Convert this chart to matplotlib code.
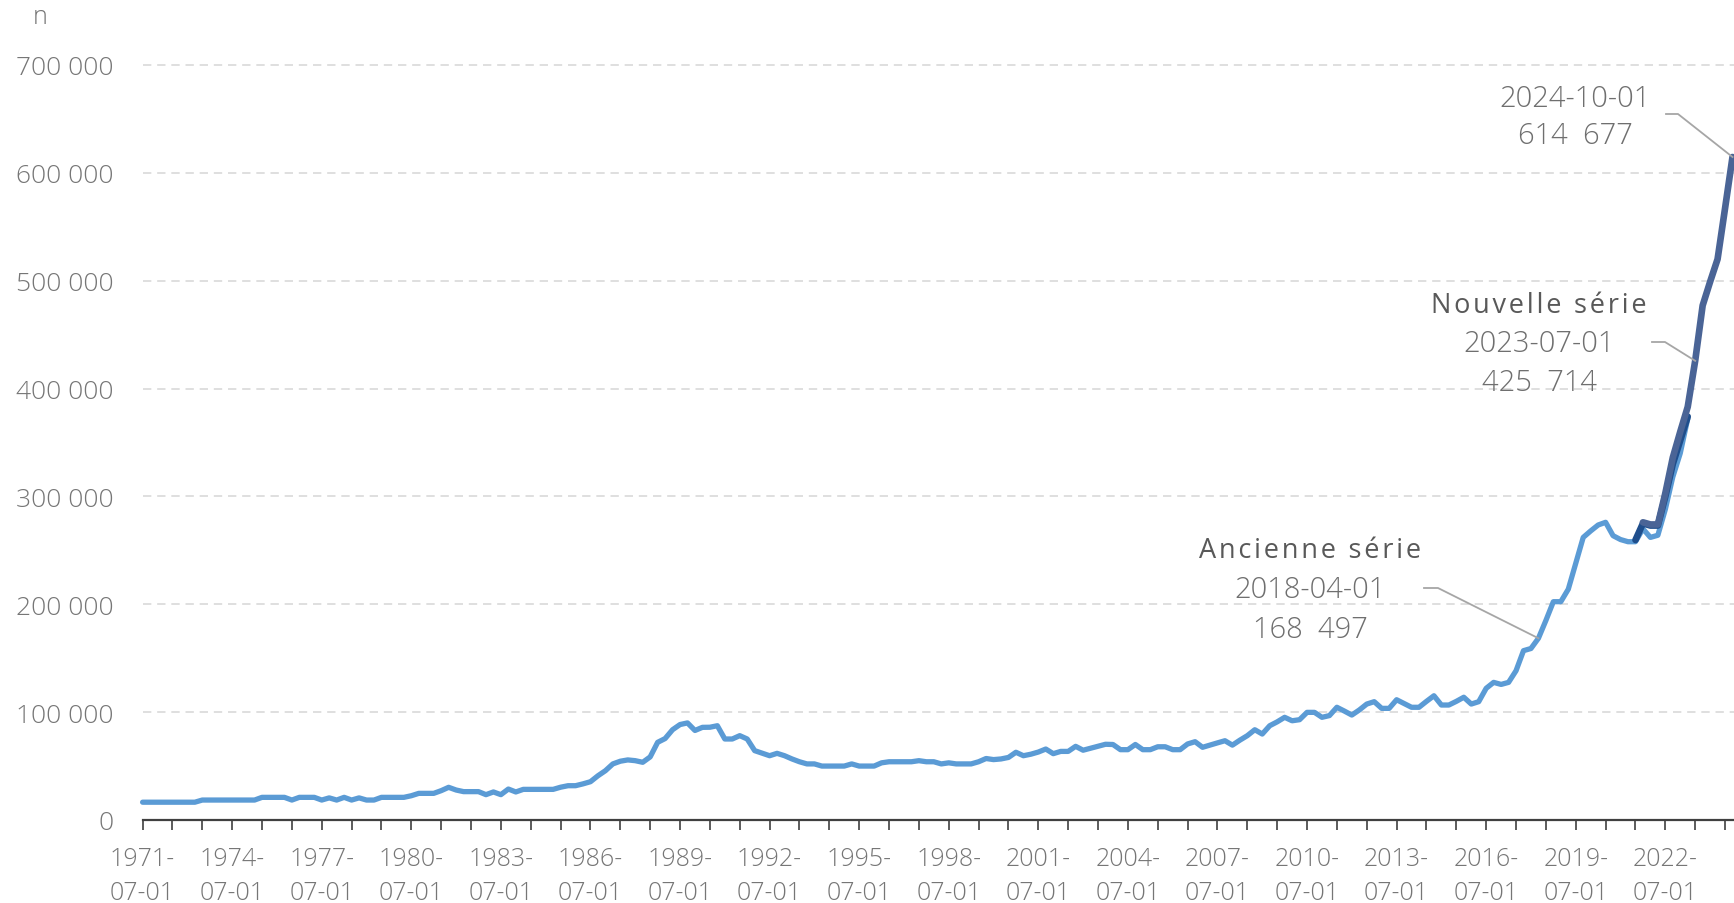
import matplotlib.pyplot as plt
from matplotlib.lines import Line2D
import pandas as pd

# ----- data (thousands, quarterly from 1971Q3) -----
quarters = pd.period_range("1971Q3", "2024Q4", freq="Q")

old_series = [
    16.5, 16.5, 16.5, 16.5,
    16.5, 16.5, 16.5, 16.5,
    18.5, 18.5, 18.5, 18.5,
    18.5, 18.5, 18.5, 18.5,
    21, 21, 21, 21,
    18.5, 21, 21, 21,
    18.5, 20.5, 18.5, 21,
    18.5, 20.5, 18.5, 18.5,
    21, 21, 21, 21,
    22.5, 24.7, 24.7, 24.7,
    27.2, 30.3, 27.8, 26.3,
    26.3, 26.3, 23.5, 26,
    23.5, 28.7, 26, 28.4,
    28.4, 28.4, 28.4, 28.4,
    30.4, 31.8, 31.8, 33.5,
    35.5, 41, 45.7, 52,
    54.5, 55.7, 55, 53.5,
    58.5, 72, 75.5, 83.7,
    88.5, 90, 83, 85.9,
    86, 87.4, 75.1, 75.1,
    78.2, 75.1, 64.3, 62,
    59.6, 61.8, 59.6, 56.6,
    54, 52, 52, 50,
    50, 50, 50, 52,
    50, 50, 50, 53,
    54, 54, 54, 54,
    55, 54, 54, 52,
    53, 52, 52, 52,
    54, 57, 56, 56.6,
    58, 62.8, 59.6, 61,
    63, 65.8, 61.5, 63.6,
    63.6, 68.3, 64.7, 66.5,
    68.3, 70.2, 70, 65.2,
    65.2, 70, 65.2, 65.2,
    67.9, 67.9, 65.2, 65.2,
    70.5, 72.6, 67.4, 69.5,
    71.5, 73.5, 69.4, 74,
    78.2, 83.7, 79.7, 87.4,
    91, 95.2, 92, 93,
    99.8, 99.8, 95.2, 96.8,
    104.5, 101, 97.3, 102,
    107.5, 109.7, 103.5, 103.5,
    111.5, 108, 104.5, 104.5,
    110, 115.2, 106.6, 106.6,
    110, 113.8, 107.5, 109.7,
    122.1, 127.6, 125.7, 127.6,
    138.4, 157, 159, 168.497,
    185, 202.4, 202.4, 214,
    238, 262, 268, 273.5,
    276, 263.6, 260, 258,
    258, 270, 262, 264,
    288, 318, 340, 372,
]
navy_start = 200
navy_series = [259.6, 275, 273, 273, 300, 330, 352, 374]
new_start = 201
new_series = [276, 274, 274, 303, 336, 360, 383, 425.714,
              477, 499, 520, 567, 614.677]

annotations = [
    # (series label, quarter index, value)
    ("Ancienne série", 187, 168497),
    ("Nouvelle série", 208, 425714),
    (None, 213, 614677),
]

# ----- figure -----
plt.rcParams["font.family"] = ["Open Sans", "DejaVu Sans"]
W, H = 1734, 904
fig = plt.figure(figsize=(W / 100, H / 100), dpi=100)
ax = fig.add_axes([142.6 / W, 1 - 821 / H, 1 - 142.6 / W, (821 - 44.4) / H])

x_old = list(range(len(old_series)))
x_navy = list(range(navy_start, navy_start + len(navy_series)))
x_new = list(range(new_start, new_start + len(new_series)))

line_kw = dict(solid_joinstyle="round", solid_capstyle="round", clip_on=False)
ax.plot(x_old, [v * 1000 for v in old_series], color="#5b9bd5", lw=3.8, **line_kw)
ax.plot(x_navy, [v * 1000 for v in navy_series], color="#1f4e8c", lw=4.8, **line_kw)
ax.plot(x_new, [v * 1000 for v in new_series], color="#4a6496", lw=4.8, **line_kw)

ax.set_xlim(0, 213.2)
ax.set_ylim(0, 720000)

# y axis
yticks = list(range(0, 700001, 100000))
ax.set_yticks(yticks)
ax.set_yticklabels([f"{v:,}".replace(",", " ") for v in yticks])
for v in yticks[1:]:
    ax.axhline(v, color="#d9d9d9", lw=1.2, ls=(0, (5, 3.5)), zorder=0)
ax.tick_params(axis="y", length=0, pad=21, labelsize=19, labelcolor="#767676")
for t in ax.get_yticklabels():
    t.set_fontweight("light")

# x axis: label every 3 years, tick every year
ax.set_xticks(range(0, len(quarters), 12))
ax.set_xticks(range(0, len(quarters), 4), minor=True)
labels = []
for q in quarters[::12]:
    labels.append(f"{q.year}-\n{q.start_time.month:02d}-01")
ax.set_xticklabels(labels, linespacing=1.45)
ax.tick_params(axis="x", which="both", length=7, width=1.2, color="#404040",
               direction="out")
ax.tick_params(axis="x", which="major", pad=12, labelsize=18, labelcolor="#767676")
for t in ax.get_xticklabels():
    t.set_fontweight("light")

for s in ["top", "right", "left"]:
    ax.spines[s].set_visible(False)
ax.spines["bottom"].set_color("#404040")
ax.spines["bottom"].set_linewidth(1.6)

fig.text(40 / W, 1 - 18 / H, "n", ha="center", va="center", fontsize=18,
         color="#767676", fontweight="light")

# ----- data labels with leader lines -----
label_pos = [
    # title y, date y, value y, centre x, leader start x, kink x, leader y
    (551, 590, 630, 1310, 1424, 1438, 589),
    (306, 344, 383, 1539, 1652, 1665, 343),
    (None, 99, 136, 1575, 1666, 1678, 115),
]
for (title, i, v), (ty, dy, vy, cx, lx0, lx1, ly) in zip(annotations, label_pos):
    if title:
        fig.text(cx / W, 1 - ty / H, "\u200a".join(title), ha="center",
                 va="center", fontsize=19.5, color="#595959")
    fig.text(cx / W, 1 - dy / H, str(quarters[i].start_time.date()),
             ha="center", va="center", fontsize=21, color="#6f6f6f",
             fontweight="light")
    fig.text(cx / W, 1 - vy / H, f"{v:,}".replace(",", "  "),
             ha="center", va="center", fontsize=21, color="#6f6f6f",
             fontweight="light")
    px, py = ax.transData.transform((i, v))
    fig.add_artist(Line2D([lx0 / W, lx1 / W, px / W],
                          [1 - ly / H, 1 - ly / H, py / H],
                          transform=fig.transFigure, color="#a6a6a6", lw=1.3))

fig.savefig("out.png", dpi=100)
